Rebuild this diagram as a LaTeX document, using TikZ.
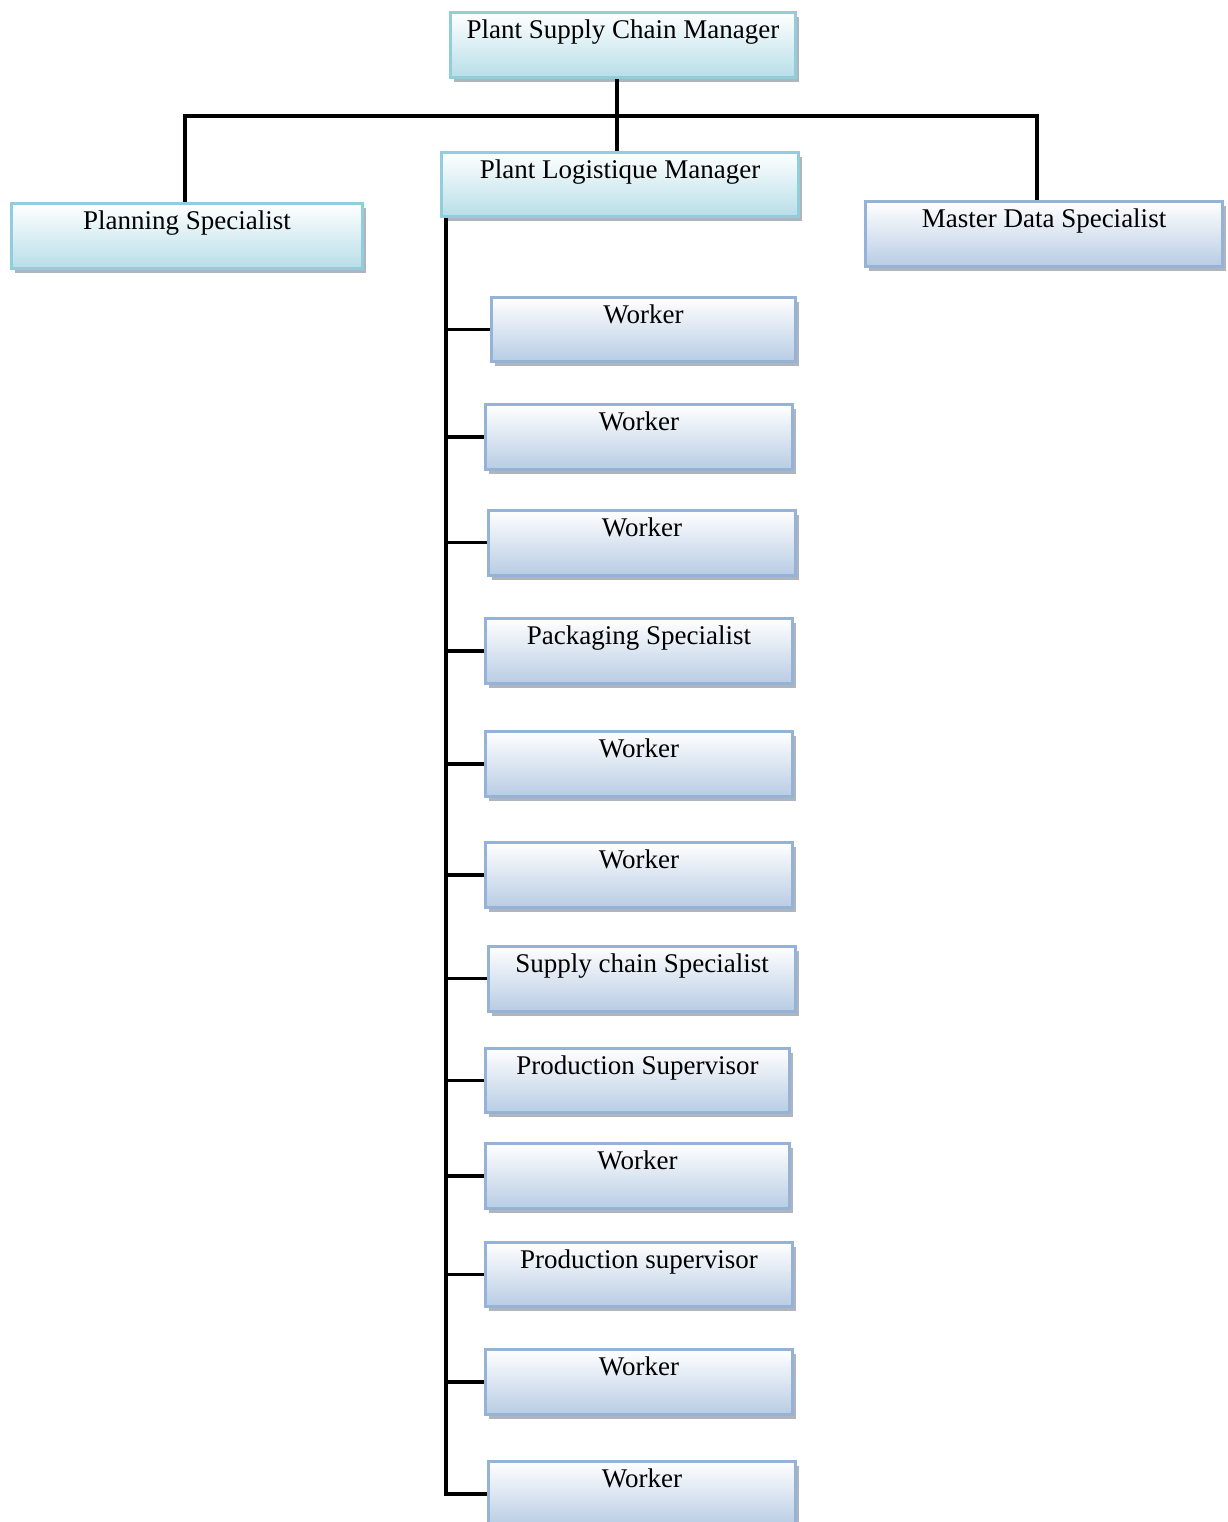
\documentclass[tikz,border=0pt]{standalone}
\usepackage{fontspec}
\setmainfont{Liberation Serif}
\usetikzlibrary{shadows}

\definecolor{cyanline}{RGB}{146,205,220}
\definecolor{cyanfill}{RGB}{183,222,232}
\definecolor{blueline}{RGB}{149,179,215}
\definecolor{bluefill}{RGB}{184,204,228}
\definecolor{shadowgray}{RGB}{110,120,135}

\tikzset{
  orgbox/.style={line width=3pt, inner sep=0pt, minimum height=65pt,
    minimum width=307pt,
    drop shadow={shadow xshift=3.5pt, shadow yshift=-4.5pt, fill=shadowgray, opacity=0.55}},
  cyanbox/.style={orgbox, draw=cyanline, top color=white, bottom color=cyanfill},
  bluebox/.style={orgbox, draw=blueline, top color=white, bottom color=bluefill},
  title/.style={label={[anchor=base, yshift=-27.5pt, inner sep=0pt,
    font=\fontsize{27}{30}\selectfont]north:#1}},
  link/.style={line width=3.2pt, black}
}

\begin{document}
\begin{tikzpicture}[x=1pt, y=-1pt]
  \clip (0,0) rectangle (1227,1522);
  \fill[white] (0,0) rectangle (1227,1522);

  % top level and its direct reports
  \node[cyanbox, minimum width=345pt, title={Plant Supply Chain Manager}] (psc) at (623,45) {};
  \node[cyanbox, minimum width=357pt, minimum height=64pt, title={Plant Logistique Manager}] (plm) at (620,184.5) {};
  \node[cyanbox, minimum width=351pt, title={Planning Specialist}] (plan) at (187,236) {};
  \node[bluebox, minimum width=357pt, title={Master Data Specialist}] (mds) at (1044,234) {};

  % staff under the logistics manager
  \node[bluebox, minimum width=304pt, minimum height=64pt, title={Worker}] (w1) at (643.5,329.5) {};
  \node[bluebox, title={Worker}] (w2) at (639,437) {};
  \node[bluebox, title={Worker}] (w3) at (642,542.5) {};
  \node[bluebox, title={Packaging Specialist}] (pack) at (639,651) {};
  \node[bluebox, title={Worker}] (w5) at (639,764) {};
  \node[bluebox, title={Worker}] (w6) at (639,875) {};
  \node[bluebox, title={Supply chain Specialist}] (scs) at (642,978.5) {};
  \node[bluebox, minimum width=304pt, minimum height=64pt, title={Production Supervisor}] (ps1) at (637.5,1080.5) {};
  \node[bluebox, minimum width=304pt, title={Worker}] (w9) at (637.5,1176) {};
  \node[bluebox, minimum height=64pt, title={Production supervisor}] (ps2) at (639,1274.5) {};
  \node[bluebox, title={Worker}] (w11) at (639,1382) {};
  \node[bluebox, title={Worker}] (w12) at (642,1494) {};

  % connectors from the top manager
  \coordinate (hub) at (617,116);
  \coordinate (jl) at (185,116);
  \coordinate (jr) at (1037,116);
  \coordinate (trunk) at (446,0);
  \draw[link] (psc.south -| hub) -- (plm.north -| hub);
  \draw[link] (plan.north -| jl) -- (jl) -- (jr) -- (mds.north -| jr);

  % trunk and branches to the staff
  \draw[link] (plm.south -| trunk) |- (w12.west);
  \foreach \n in {w1,w2,w3,pack,w5,w6,scs,ps1,w9,ps2,w11}
    \draw[link] (trunk |- \n.west) -- (\n.west);
\end{tikzpicture}
\end{document}
